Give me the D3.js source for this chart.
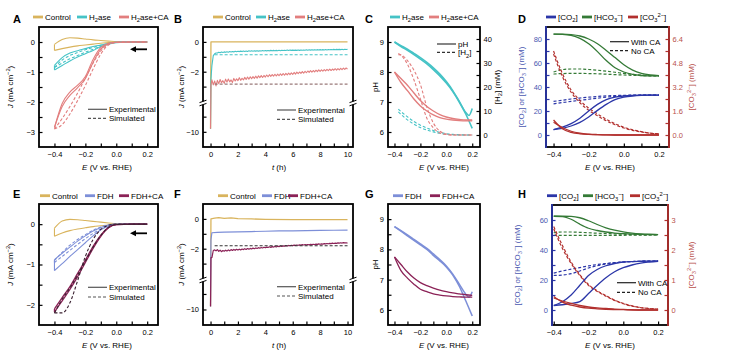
<!DOCTYPE html>
<html><head><meta charset="utf-8">
<script src="https://cdn.jsdelivr.net/npm/d3@7"></script>
<style>body{margin:0;background:#fff}</style>
</head><body>
<script>
// ================= DATA =================
const eGrid = [-0.4,-0.35,-0.3,-0.25,-0.2,-0.15,-0.1,-0.05,0,0.1,0.2];
const pGrid = [-0.4,-0.35,-0.3,-0.25,-0.2,-0.15,-0.1,-0.05,0,0.05,0.1,0.15,0.2];
const pGridTurn = [-0.4,-0.35,-0.3,-0.25,-0.2,-0.15,-0.1,-0.05,0,0.05,0.1,0.15,0.175,0.2];
const h2Grid = [-0.37,-0.35,-0.3,-0.25,-0.2,-0.15,-0.1,-0.05,0,0.05,0.1,0.15,0.2];

// Panel A (J, mA cm-2)
const aControlCath = [-0.28,-0.22,-0.17,-0.13,-0.1,-0.07,-0.04,-0.02,0,0,0];
const aControlAnod = [-0.08,0.08,0.14,0.13,0.1,0.07,0.05,0.03,0.01,0,0];
const aH2aseExp1 = [-0.93,-0.78,-0.63,-0.5,-0.39,-0.28,-0.16,-0.07,-0.02,0,0];
const aH2aseExp2 = [-0.78,-0.52,-0.37,-0.29,-0.22,-0.15,-0.1,-0.05,-0.01,0,0];
const aH2aseSim1 = [-0.85,-0.7,-0.56,-0.45,-0.34,-0.24,-0.14,-0.06,-0.01,0,0];
const aH2aseSim2 = [-0.85,-0.6,-0.45,-0.35,-0.26,-0.18,-0.11,-0.05,-0.01,0,0];
const aCAExp1 = [-2.85,-2.05,-1.67,-1.44,-1.15,-0.58,-0.18,-0.04,-0.01,0,0];
const aCAExp2 = [-2.85,-2.15,-1.78,-1.52,-1.22,-0.68,-0.24,-0.06,-0.01,0,0];
const aCASim1 = [-2.9,-2.75,-2.4,-1.95,-1.45,-0.9,-0.4,-0.1,-0.02,0,0];
const aCASim2 = [-2.9,-2.55,-2.15,-1.7,-1.2,-0.7,-0.3,-0.07,-0.01,0,0];

// Panel B / F time series (h)
const bTime = [0.1,0.2,0.3,0.4,0.5,0.6,0.7,0.8,0.9,1.0,1.1,1.2,1.3,1.4,1.5,1.6,1.7,1.8,1.9,2.0,
 2.1,2.2,2.3,2.4,2.5,2.6,2.7,2.8,2.9,3.0,3.1,3.2,3.3,3.4,3.5,3.6,3.7,3.8,3.9,4.0,
 4.1,4.2,4.3,4.4,4.5,4.6,4.7,4.8,4.9,5.0,5.1,5.2,5.3,5.4,5.5,5.6,5.7,5.8,5.9,6.0,
 6.1,6.2,6.3,6.4,6.5,6.6,6.7,6.8,6.9,7.0,7.1,7.2,7.3,7.4,7.5,7.6,7.7,7.8,7.9,8.0,
 8.1,8.2,8.3,8.4,8.5,8.6,8.7,8.8,8.9,9.0,9.1,9.2,9.3,9.4,9.5,9.6,9.7,9.8,9.9,10.0];
const spikeT = [0, 0.03];
const bControlT = [0, 0.03, 10];
const bControlJ = [-9.8, 0, 0];
const bH2aseSpike = [-9.8, -2.5];
const bH2aseJ = [-1.6,-0.92,-0.80,-0.74,-0.75,-0.70,-0.73,-0.68,-0.71,-0.67,
 -0.70,-0.66,-0.69,-0.65,-0.68,-0.64,-0.67,-0.63,-0.66,-0.63,
 -0.65,-0.62,-0.65,-0.61,-0.64,-0.61,-0.64,-0.60,-0.63,-0.60,
 -0.63,-0.60,-0.62,-0.59,-0.62,-0.59,-0.61,-0.58,-0.61,-0.58,
 -0.60,-0.58,-0.60,-0.57,-0.60,-0.57,-0.59,-0.57,-0.59,-0.56,
 -0.59,-0.56,-0.58,-0.56,-0.58,-0.55,-0.58,-0.55,-0.57,-0.55,
 -0.57,-0.55,-0.57,-0.54,-0.57,-0.54,-0.56,-0.54,-0.56,-0.53,
 -0.56,-0.53,-0.55,-0.53,-0.55,-0.52,-0.55,-0.52,-0.54,-0.52,
 -0.54,-0.52,-0.54,-0.51,-0.54,-0.51,-0.53,-0.51,-0.53,-0.50,
 -0.53,-0.50,-0.52,-0.50,-0.52,-0.49,-0.52,-0.49,-0.51,-0.50];
const bCASpike = [-9.8, -2.9];
const bCAJ = [-2.55,-2.88,-2.62,-2.95,-2.58,-2.80,-2.52,-2.74,-2.60,-2.78,
 -2.50,-2.70,-2.49,-2.68,-2.55,-2.72,-2.45,-2.62,-2.48,-2.60,
 -2.40,-2.58,-2.44,-2.55,-2.38,-2.52,-2.36,-2.50,-2.34,-2.47,
 -2.33,-2.45,-2.30,-2.44,-2.28,-2.40,-2.26,-2.39,-2.25,-2.36,
 -2.22,-2.34,-2.20,-2.31,-2.19,-2.30,-2.17,-2.29,-2.16,-2.27,
 -2.14,-2.25,-2.12,-2.24,-2.11,-2.21,-2.10,-2.20,-2.08,-2.18,
 -2.05,-2.16,-2.03,-2.13,-2.02,-2.11,-1.99,-2.10,-1.97,-2.07,
 -1.95,-2.05,-1.93,-2.03,-1.92,-2.01,-1.90,-2.00,-1.88,-1.98,
 -1.87,-1.96,-1.86,-1.95,-1.84,-1.93,-1.83,-1.92,-1.82,-1.90,
 -1.80,-1.89,-1.79,-1.88,-1.77,-1.86,-1.76,-1.85,-1.75,-1.83];
const simT = [0.3, 10];
const bH2aseSim = [-0.86, -0.86];
const bCASim = [-2.83, -2.83];

// Panel C (pH, [H2] mM)
const cH2asePH1 = [9.0,8.85,8.72,8.58,8.43,8.27,8.08,7.87,7.63,7.35,7.0,6.6,6.12];
const cH2asePH2 = [9.0,8.88,8.76,8.62,8.48,8.32,8.14,7.93,7.68,7.38,7.02,6.65,6.55,6.78];
const cCAPH1 = [8.0,7.78,7.56,7.3,7.05,6.85,6.7,6.58,6.5,6.45,6.42,6.4,6.4];
const cCAPH2 = [8.0,7.65,7.38,7.1,6.87,6.7,6.57,6.48,6.43,6.4,6.38,6.37,6.37];
const cH2aseH2a = [10.8,9.8,7.6,5.6,4.1,2.9,1.9,1.1,0.55,0.25,0.1,0.03,0];
const cH2aseH2b = [9.6,8.6,6.3,4.5,3.1,2.1,1.3,0.7,0.35,0.15,0.05,0.01,0];
const cCAH2a = [34,33.2,29.5,23,15,7,3,0.8,0.2,0,0,0,0];
const cCAH2b = [33.5,33.4,31,27,21,11.6,5,1.6,0.4,0.05,0,0,0];

// Panel D (mM)
const dHCO3CA1 = [84,83.8,83,80.5,76,69.5,62,56,52.5,50.5,49.6,49.3,49.2];
const dHCO3CA2 = [84,84,83.6,82.5,80,76,70.5,64.5,58.5,54,51.3,50,49.4];
const dHCO3No1 = [52.5,54.5,55,55,54.6,54,53.2,52.3,51.3,50.5,49.9,49.5,49.3];
const dHCO3No2 = [50.8,51.2,51.3,51.3,51.2,51,50.7,50.3,50,49.7,49.5,49.3,49.2];
const dCO2CA1 = [4.5,6.5,9.5,14,20,25.5,29.5,31.5,32.5,33,33.2,33.3,33.3];
const dCO2CA2 = [4.5,5.5,7.5,10.5,15,20.5,25.5,29.5,31.5,32.5,33,33.2,33.3];
const dCO2No1 = [28,29,30,30.8,31.5,32.1,32.6,32.9,33.1,33.2,33.3,33.3,33.3];
const dCO2No2 = [26,27,28,28.9,29.8,30.7,31.5,32.2,32.7,33,33.2,33.3,33.3];
const dCO3CA1 = [1.0,0.42,0.18,0.08,0.04,0.02,0.01,0,0,0,0,0,0];
const dCO3CA2 = [0.85,0.5,0.25,0.12,0.06,0.03,0.01,0,0,0,0,0,0];
const dCO3No1 = [5.6,4.1,3.0,2.3,1.8,1.4,1.05,0.75,0.52,0.35,0.22,0.13,0.08];
const dCO3No2 = [5.4,3.9,2.85,2.15,1.65,1.28,0.95,0.68,0.47,0.31,0.2,0.12,0.07];

// Panel E
const eControlCath = [-0.3,-0.22,-0.16,-0.12,-0.09,-0.06,-0.04,-0.02,0,0,0];
const eControlAnod = [-0.1,0.08,0.12,0.11,0.09,0.07,0.05,0.03,0.01,0,0];
const eFDHExp1 = [-1.15,-0.98,-0.8,-0.63,-0.46,-0.29,-0.14,-0.05,-0.01,0,0];
const eFDHExp2 = [-0.88,-0.72,-0.57,-0.42,-0.29,-0.17,-0.08,-0.02,0,0,0];
const eFDHSim1 = [-0.95,-0.8,-0.65,-0.5,-0.36,-0.23,-0.12,-0.05,-0.01,0,0];
const eFDHSim2 = [-0.9,-0.7,-0.52,-0.38,-0.26,-0.15,-0.07,-0.02,0,0,0];
const eCAExp1 = [-2.1,-1.82,-1.55,-1.22,-0.89,-0.55,-0.27,-0.08,-0.01,0,0];
const eCAExp2 = [-2.18,-1.9,-1.62,-1.3,-0.95,-0.6,-0.3,-0.09,-0.01,0,0];
const eCASim1 = [-2.2,-2.2,-1.95,-1.4,-0.8,-0.38,-0.13,-0.03,0,0,0];
const eCASim2 = [-2.2,-1.86,-1.58,-1.26,-0.92,-0.57,-0.28,-0.08,-0.01,0,0];

// Panel F
const fControlT = [0,0.03,0.3,0.6,1,1.5,2,3,4,6,8,10];
const fControlJ = [-9.8,0,0.05,0.08,0.03,0.07,0.02,0,-0.03,-0.05,-0.05,-0.05];
const fFDHT = [0,0.03,0.1,0.5,1,2,3,4,5,6,7,8,9,10];
const fFDHJ = [-9.8,-1.4,-0.93,-0.9,-0.89,-0.87,-0.85,-0.83,-0.81,-0.8,-0.79,-0.77,-0.76,-0.75];
const fCASpike = [-9.8, -2.6];
const fCAJ = [-2.6,-2.12,-2.08,-2.14,-2.06,-2.18,-2.10,-2.20,-2.12,-2.17,
 -2.10,-2.16,-2.08,-2.14,-2.06,-2.12,-2.05,-2.11,-2.04,-2.09,
 -2.03,-2.08,-2.02,-2.06,-2.00,-2.05,-1.99,-2.03,-1.98,-2.02,
 -1.96,-2.00,-1.95,-1.98,-1.93,-1.97,-1.92,-1.95,-1.90,-1.94,
 -1.89,-1.92,-1.87,-1.91,-1.86,-1.89,-1.85,-1.88,-1.83,-1.86,
 -1.82,-1.85,-1.81,-1.83,-1.79,-1.82,-1.78,-1.80,-1.77,-1.79,
 -1.76,-1.78,-1.75,-1.77,-1.74,-1.76,-1.73,-1.75,-1.72,-1.74,
 -1.72,-1.74,-1.71,-1.73,-1.70,-1.72,-1.69,-1.71,-1.68,-1.70,
 -1.68,-1.69,-1.66,-1.68,-1.65,-1.67,-1.64,-1.66,-1.63,-1.65,
 -1.63,-1.64,-1.61,-1.63,-1.60,-1.62,-1.59,-1.61,-1.60,-1.62];
const fCASim = [-1.8, -1.8];

// Panel G
const gFDHPH1 = [8.75,8.6,8.45,8.3,8.15,8.0,7.8,7.62,7.42,7.15,6.78,6.3,5.8];
const gFDHPH2 = [8.75,8.62,8.48,8.33,8.18,8.03,7.85,7.66,7.45,7.18,6.85,6.52,6.42,6.6];
const gCAPH1 = [7.75,7.5,7.25,7.05,6.9,6.8,6.72,6.65,6.6,6.56,6.53,6.5,6.48];
const gCAPH2 = [7.75,7.3,7.05,6.85,6.68,6.6,6.53,6.49,6.46,6.44,6.43,6.42,6.42];

// Panel H
const hHCO3CA1 = [62.5,62.5,62.4,61.5,59.5,57,54.8,53.2,52.1,51.3,50.8,50.5,50.3];
const hHCO3CA2 = [62.5,62.3,60.5,57.2,54.5,53,52,51.3,50.9,50.6,50.4,50.3,50.2];
const hHCO3No1 = [51.5,52,52,51.8,51.5,51.2,51,50.7,50.5,50.3,50.2,50.1,50];
const hHCO3No2 = [49.8,49.8,49.8,49.8,49.8,49.8,49.8,49.8,49.8,49.9,49.9,50,50];
const hCO2CA1 = [3,5.5,10,16.5,23,27,29.5,31,32,32.3,32.5,32.6,32.7];
const hCO2CA2 = [3,3.5,4.3,5.6,11,16.5,21.5,25.5,28.2,30,31.3,32,32.5];
const hCO2No1 = [24.6,26,27.2,28.3,29.4,30.3,31,31.6,32,32.3,32.5,32.6,32.7];
const hCO2No2 = [23,23.3,24.2,26,28,29.5,30.6,31.4,32,32.3,32.5,32.6,32.7];
const hCO3CA1 = [0.45,0.26,0.16,0.1,0.06,0.04,0.025,0.015,0.01,0,0,0,0];
const hCO3CA2 = [0.4,0.3,0.22,0.15,0.1,0.07,0.05,0.03,0.02,0.01,0,0,0];
const hCO3No1 = [2.78,2.15,1.6,1.18,0.85,0.64,0.48,0.33,0.22,0.14,0.08,0.05,0.03];
const hCO3No2 = [2.7,2.05,1.55,1.15,0.82,0.62,0.46,0.32,0.21,0.13,0.08,0.05,0.03];

// ticks
const eTicks = [-0.4,-0.3,-0.2,-0.1,0,0.1,0.2];
const eTickLabels = [-0.4,-0.2,0,0.2];
const tTicks = [0,1,2,3,4,5,6,7,8,9,10];
const tTickLabels = [0,2,4,6,8,10];
const aYTicks = [-3,-2.5,-2,-1.5,-1,-0.5,0], aYLabels = [-3,-2,-1,0];
const eYTicks = [-2,-1.5,-1,-0.5,0], eYLabels = [-2,-1,0];
const bYTicks = [0,-1,-2,-3,-9,-10], bYLabels = [0,-2,-10];
const pHTicks = [6,6.5,7,7.5,8,8.5,9], pHLabels = [6,7,8,9];
const h2Ticks = [0,5,10,15,20,25,30,35,40], h2Labels = [0,10,20,30,40];
const dYTicks = [0,10,20,30,40,50,60,70,80], dYLabels = [0,20,40,60,80];
const dY2Ticks = [0,0.8,1.6,2.4,3.2,4.0,4.8,5.6,6.4], dY2Labels = [0,1.6,3.2,4.8,6.4];
const hYTicks = [0,10,20,30,40,50,60], hYLabels = [0,20,40,60];
const hY2Ticks = [0,0.5,1,1.5,2,2.5,3], hY2Labels = [0,1,2,3];

// colours
const C_CTRL = '#d9b45d', C_H2 = '#45c3c6', C_H2CA = '#e27e7e';
const C_FDH = '#7d8fd8', C_FDHCA = '#8b2257';
const C_CO2 = '#2b36a8', C_HCO3 = '#347a36', C_CO3 = '#b2302e';
const C_LBLUE = '#4a58b0', C_LRED = '#b8504c';

// ================= DRAWING =================
const FONT = '"Liberation Sans", Arial, Helvetica, sans-serif';
const FS = 8, TFS = 7.5;
const svg = d3.select('body').append('svg').attr('width', 732).attr('height', 360)
  .style('display', 'block').attr('font-family', FONT);
svg.append('rect').attr('width', 732).attr('height', 360).attr('fill', '#fff');

const near = (v, arr) => (arr || []).some(a => Math.abs(a - v) < 1e-9);
const fmt1 = d3.format('.1f'), fmtD = d3.format('d');

function rich(sel, parts, fs) {
  let shift = 0;
  parts.forEach(([t, m]) => {
    const ts = sel.append('tspan').text(t);
    const target = m === 1 ? fs * 0.28 : m === 2 ? -fs * 0.4 : 0;
    if (Math.abs(target - shift) > 1e-6) { ts.attr('dy', target - shift); shift = target; }
    if (m === 1 || m === 2) ts.attr('font-size', fs * 0.72);
    if (m === 3) ts.attr('font-style', 'italic');
  });
}

function makePanel(p) {
  const x = d3.scaleLinear().domain(p.xd).range([p.l, p.r]);
  const y = d3.scaleLinear().domain(p.yd).range(p.yr || [p.b, p.t]);
  const y2 = p.y2d ? d3.scaleLinear().domain(p.y2d).range([p.b, p.t]) : null;
  const cid = 'clip-' + p.id;
  svg.append('clipPath').attr('id', cid).append('rect')
    .attr('x', p.l).attr('y', p.t).attr('width', p.r - p.l).attr('height', p.b - p.t);
  const plot = svg.append('g').attr('clip-path', `url(#${cid})`);
  return { p, x, y, y2, plot };
}

function styleAxis(sel, tc, lc) {
  sel.select('.domain').remove();
  sel.attr('font-family', FONT).attr('font-size', TFS);
  sel.selectAll('.tick line').attr('stroke', tc).attr('stroke-width', 1.2);
  sel.selectAll('.tick text').attr('fill', lc);
}

function finishPanel(P) {
  const { p, x, y, y2 } = P;
  const g = svg.append('g');
  const ax = g.append('g').attr('transform', `translate(0,${p.b})`)
    .call(d3.axisBottom(x).tickValues(p.xt).tickSize(-3.5).tickPadding(4.5)
      .tickFormat(v => near(v, p.xl) ? p.xf(v) : ''));
  styleAxis(ax, '#000', '#000');
  const ay = g.append('g').attr('transform', `translate(${p.l},0)`)
    .call(d3.axisLeft(y).tickValues(p.yt).tickSize(-3.5).tickPadding(4)
      .tickFormat(v => near(v, p.yl) ? p.yf(v) : ''));
  styleAxis(ay, p.lc || '#000', p.ltc || '#000');
  if (y2) {
    const ar = g.append('g').attr('transform', `translate(${p.r},0)`)
      .call(d3.axisRight(y2).tickValues(p.y2t).tickSize(-3.5).tickPadding(3.5)
        .tickFormat(v => near(v, p.y2l) ? p.y2f(v) : ''));
    styleAxis(ar, p.rc || '#000', p.rtc || '#000');
  }
  g.append('rect').attr('x', p.l).attr('y', p.t).attr('width', p.r - p.l).attr('height', p.b - p.t)
    .attr('fill', 'none').attr('stroke', '#000').attr('stroke-width', 1.8);
  if (p.lc) g.append('line').attr('x1', p.l).attr('x2', p.l).attr('y1', p.t - 0.9).attr('y2', p.b + 0.9)
    .attr('stroke', p.lc).attr('stroke-width', 1.8);
  if (p.rc) g.append('line').attr('x1', p.r).attr('x2', p.r).attr('y1', p.t - 0.9).attr('y2', p.b + 0.9)
    .attr('stroke', p.rc).attr('stroke-width', 1.8);
  if (p.brk !== undefined) {
    [p.l, p.r].forEach(sx => {
      g.append('rect').attr('x', sx - 3).attr('y', p.brk - 1.6).attr('width', 6).attr('height', 3.2).attr('fill', '#fff');
      [-1.6, 1.6].forEach(o => g.append('line').attr('x1', sx - 3.5).attr('x2', sx + 3.5)
        .attr('y1', p.brk + o + 1.2).attr('y2', p.brk + o - 1.2).attr('stroke', '#000').attr('stroke-width', 1));
    });
  }
  const xl = svg.append('text').attr('x', p.xlx).attr('y', p.b + 23).attr('text-anchor', 'middle').attr('font-size', FS);
  rich(xl, p.xlab, FS);
  const yl = svg.append('text').attr('transform', `translate(${p.ylx},${(p.t + p.b) / 2}) rotate(-90)`)
    .attr('text-anchor', 'middle').attr('font-size', FS).attr('fill', p.ylc || '#000');
  rich(yl, p.ylab, FS);
  if (p.y2lab) {
    const yr = svg.append('text').attr('transform', `translate(${p.y2lx},${(p.t + p.b) / 2}) rotate(-90)`)
      .attr('text-anchor', 'middle').attr('font-size', FS).attr('fill', p.y2lc || '#000');
    rich(yr, p.y2lab, FS);
  }
  svg.append('text').attr('x', p.letterX).attr('y', p.letterY).attr('font-size', 11)
    .attr('font-weight', 'bold').text(p.letter);
}

function curve(P, xs, ys, color, o = {}) {
  const yS = o.right ? P.y2 : P.y;
  const line = d3.line().x(d => P.x(d[0])).y(d => yS(d[1]))
    .curve(o.linear ? d3.curveLinear : d3.curveMonotoneX);
  P.plot.append('path').attr('d', line(xs.map((v, i) => [v, ys[i]])))
    .attr('fill', 'none').attr('stroke', color).attr('stroke-width', o.w || 1.1)
    .attr('stroke-linejoin', 'round')
    .attr('stroke-dasharray', o.dash ? '3,2' : null);
}
function loop(P, xs, ys1, ys2, color, o = {}) {
  curve(P, xs, ys1, color, o);
  curve(P, xs, ys2, color, o);
  curve(P, [xs[0], xs[0]], [ys1[0], ys2[0]], color, Object.assign({}, o, { linear: true }));
}
function topLegend(items, yc) {
  items.forEach(it => {
    svg.append('line').attr('x1', it.x).attr('x2', it.x + 10).attr('y1', yc).attr('y2', yc)
      .attr('stroke', it.c).attr('stroke-width', 2.8);
    const t = svg.append('text').attr('x', it.x + 12).attr('y', yc + 3).attr('font-size', FS);
    rich(t, it.parts, FS);
  });
}
function innerLegend(x, y1, y2, labs, color) {
  [[y1, false, labs[0]], [y2, true, labs[1]]].forEach(([yy, dash, lab]) => {
    svg.append('line').attr('x1', x).attr('x2', x + 19).attr('y1', yy).attr('y2', yy)
      .attr('stroke', color).attr('stroke-width', 1.2).attr('stroke-dasharray', dash ? '3,2' : null);
    const t = svg.append('text').attr('x', x + 21).attr('y', yy + 3).attr('font-size', FS);
    rich(t, lab, FS);
  });
}
function arrow(x1, x2, yy) {
  svg.append('line').attr('x1', x1).attr('x2', x2 + 4).attr('y1', yy).attr('y2', yy)
    .attr('stroke', '#000').attr('stroke-width', 1.8);
  svg.append('path').attr('d', `M${x2},${yy}L${x2 + 6},${yy - 3}L${x2 + 6},${yy + 3}Z`).attr('fill', '#000');
}

const JLAB = [['J', 3], [' (mA cm', 0], ['−2', 2], [')', 0]];
const ELAB = [['E', 3], [' (V vs. RHE)', 0]];
const TLAB = [['t', 3], [' (h)', 0]];
const CONCLAB = [['[CO', 0], ['2', 1], ['] or [HCO', 0], ['3', 1], ['−', 2], ['] (mM)', 0]];
const CO3LAB = [['[CO', 0], ['3', 1], ['2−', 2], ['] (mM)', 0]];
const H2LAB = [['[H', 0], ['2', 1], ['] (mM)', 0]];
const H2ASE = [['H', 0], ['2', 1], ['ase', 0]];
const H2ASECA = [['H', 0], ['2', 1], ['ase+CA', 0]];
const LEG_CO2 = [['[CO', 0], ['2', 1], [']', 0]];
const LEG_HCO3 = [['[HCO', 0], ['3', 1], ['−', 2], [']', 0]];
const LEG_CO3 = [['[CO', 0], ['3', 1], ['2−', 2], [']', 0]];
const EXPSIM = [[['Experimental', 0]], [['Simulated', 0]]];
const CANO = [[['With CA', 0]], [['No CA', 0]]];

const cvCommon = { xd: [-0.5, 0.27], xt: eTicks, xl: eTickLabels, xf: fmt1, xlab: ELAB, xlx: 107, ylab: JLAB, ylx: 13, yf: fmtD, letterX: 13 };
const tCommon = { xd: [-0.55, 10.4], xt: tTicks, xl: tTickLabels, xf: fmtD, xlab: TLAB, xlx: 279, ylab: JLAB, ylx: 184,
  yt: bYTicks, yl: bYLabels, yf: fmtD, letterX: 174, l: 203, r: 353 };
const phCommon = { l: 388, r: 480, xd: [-0.45, 0.26], xt: eTicks, xl: eTickLabels, xf: fmt1, xlab: ELAB, xlx: 444,
  yd: [5.5, 9.5], yt: pHTicks, yl: pHLabels, yf: fmtD, ylab: [['pH', 0]], ylx: 378, letterX: 365 };
const concCommon = { xt: eTicks, xl: eTickLabels, xf: fmt1, xlab: ELAB, xlx: 610, yf: fmtD,
  lc: C_CO2, ltc: C_LBLUE, rc: C_CO3, rtc: C_LRED, ylab: CONCLAB, ylc: C_LBLUE, y2lab: CO3LAB, y2lx: 694, y2lc: C_LRED, letterX: 518 };

// ---------- Panel A ----------
const A = makePanel(Object.assign({}, cvCommon, { id: 'A', l: 39, r: 158, t: 27, b: 147, yd: [-3.5, 0.5],
  yt: aYTicks, yl: aYLabels, letter: 'A', letterY: 23 }));
loop(A, eGrid, aControlCath, aControlAnod, C_CTRL);
loop(A, eGrid, aH2aseSim1, aH2aseSim2, C_H2, { dash: true });
loop(A, eGrid, aH2aseExp1, aH2aseExp2, C_H2);
loop(A, eGrid, aCASim1, aCASim2, C_H2CA, { dash: true });
loop(A, eGrid, aCAExp1, aCAExp2, C_H2CA);
finishPanel(A);
topLegend([{ x: 33, c: C_CTRL, parts: [['Control', 0]] }, { x: 77, c: C_H2, parts: H2ASE }, { x: 119, c: C_H2CA, parts: H2ASECA }], 17);
innerLegend(88, 109.3, 118.3, EXPSIM, '#555');
arrow(147, 130, 49.3);

// ---------- Panel B ----------
const B = makePanel(Object.assign({}, tCommon, { id: 'B', t: 27, b: 147, yd: [-11, -8.1, -4.1, 1], yr: [147, 103, 103, 27], brk: 103,
  letter: 'B', letterY: 23 }));
curve(B, bControlT, bControlJ, C_CTRL, { linear: true, w: 1.3 });
curve(B, spikeT.concat(bTime), bH2aseSpike.concat(bH2aseJ), C_H2, { linear: true, w: 1.1 });
curve(B, spikeT.concat(bTime), bCASpike.concat(bCAJ), C_H2CA, { linear: true, w: 1.1 });
curve(B, simT, bH2aseSim, C_H2, { dash: true, linear: true });
curve(B, simT, bCASim, '#9a7a7a', { dash: true, linear: true });
finishPanel(B);
topLegend([{ x: 213, c: C_CTRL, parts: [['Control', 0]] }, { x: 256, c: C_H2, parts: H2ASE }, { x: 295, c: C_H2CA, parts: H2ASECA }], 17);
innerLegend(277, 110, 119.3, EXPSIM, '#555');

// ---------- Panel C ----------
const Cp = makePanel(Object.assign({}, phCommon, { id: 'C', t: 27, b: 147, y2d: [-5, 45], y2t: h2Ticks, y2l: h2Labels, y2f: fmtD,
  y2lab: H2LAB, y2lx: 500, letter: 'C', letterY: 23 }));
curve(Cp, h2Grid, cH2aseH2a, C_H2, { dash: true, right: true });
curve(Cp, h2Grid, cH2aseH2b, C_H2, { dash: true, right: true });
curve(Cp, h2Grid, cCAH2a, C_H2CA, { dash: true, right: true });
curve(Cp, h2Grid, cCAH2b, C_H2CA, { dash: true, right: true });
curve(Cp, pGrid, cH2asePH1, C_H2, { w: 1.6 });
curve(Cp, pGridTurn, cH2asePH2, C_H2, { w: 1.6 });
curve(Cp, pGrid, cCAPH1, C_H2CA, { w: 1.4 });
curve(Cp, pGrid, cCAPH2, C_H2CA, { w: 1.4 });
finishPanel(Cp);
topLegend([{ x: 390, c: C_H2, parts: H2ASE }, { x: 429, c: C_H2CA, parts: H2ASECA }], 17);
innerLegend(437, 44, 52.3, [[['pH', 0]], [['[H', 0], ['2', 1], [']', 0]]], '#333');

// ---------- Panel D ----------
const D = makePanel(Object.assign({}, concCommon, { id: 'D', l: 546, r: 669, t: 27, b: 147, xd: [-0.443, 0.257],
  yd: [-10, 90], yt: dYTicks, yl: dYLabels, y2d: [-0.8, 7.2], y2t: dY2Ticks, y2l: dY2Labels, y2f: fmt1, ylx: 524,
  letter: 'D', letterY: 23 }));
[dHCO3No1, dHCO3No2].forEach(s => curve(D, pGrid, s, C_HCO3, { dash: true, w: 1.2 }));
[dCO2No1, dCO2No2].forEach(s => curve(D, pGrid, s, C_CO2, { dash: true, w: 1.2 }));
[dCO3No1, dCO3No2].forEach(s => curve(D, pGrid, s, C_CO3, { dash: true, w: 1.2, right: true }));
[dHCO3CA1, dHCO3CA2].forEach(s => curve(D, pGrid, s, C_HCO3, { w: 1.3 }));
[dCO2CA1, dCO2CA2].forEach(s => curve(D, pGrid, s, C_CO2, { w: 1.3 }));
[dCO3CA1, dCO3CA2].forEach(s => curve(D, pGrid, s, C_CO3, { w: 1.3, right: true }));
finishPanel(D);
topLegend([{ x: 546, c: C_CO2, parts: LEG_CO2 }, { x: 582, c: C_HCO3, parts: LEG_HCO3 }, { x: 628, c: C_CO3, parts: LEG_CO3 }], 17);
innerLegend(610, 41.7, 50.7, CANO, '#222');

// ---------- Panel E ----------
const E = makePanel(Object.assign({}, cvCommon, { id: 'E', l: 39, r: 158, t: 204, b: 325, yd: [-2.5, 0.5],
  yt: eYTicks, yl: eYLabels, letter: 'E', letterY: 198 }));
loop(E, eGrid, eControlCath, eControlAnod, C_CTRL);
loop(E, eGrid, eFDHSim1, eFDHSim2, C_FDH, { dash: true });
loop(E, eGrid, eFDHExp1, eFDHExp2, C_FDH);
loop(E, eGrid, eCAExp1, eCAExp2, C_FDHCA, { w: 1.3 });
loop(E, eGrid, eCASim1, eCASim2, '#3a2030', { dash: true });
finishPanel(E);
topLegend([{ x: 40, c: C_CTRL, parts: [['Control', 0]] }, { x: 85, c: C_FDH, parts: [['FDH', 0]] }, { x: 119, c: C_FDHCA, parts: [['FDH+CA', 0]] }], 195.7);
innerLegend(88, 287.3, 297, EXPSIM, '#555');
arrow(147, 130, 233.3);

// ---------- Panel F ----------
const F = makePanel(Object.assign({}, tCommon, { id: 'F', t: 204, b: 325, yd: [-11, -8.1, -4.1, 1], yr: [325, 280, 280, 204], brk: 280,
  letter: 'F', letterY: 198 }));
curve(F, fControlT, fControlJ, C_CTRL, { linear: true, w: 1.3 });
curve(F, fFDHT, fFDHJ, C_FDH, { linear: true, w: 1.2 });
curve(F, spikeT.concat(bTime), fCASpike.concat(fCAJ), C_FDHCA, { linear: true, w: 1.2 });
curve(F, simT, fCASim, '#333', { dash: true, linear: true });
finishPanel(F);
topLegend([{ x: 218, c: C_CTRL, parts: [['Control', 0]] }, { x: 262, c: C_FDH, parts: [['FDH', 0]] }, { x: 288, c: C_FDHCA, parts: [['FDH+CA', 0]] }], 195.7);
innerLegend(277, 286.7, 296, EXPSIM, '#555');

// ---------- Panel G ----------
const G = makePanel(Object.assign({}, phCommon, { id: 'G', t: 204, b: 325, letter: 'G', letterY: 198 }));
curve(G, pGrid, gFDHPH1, C_FDH, { w: 1.5 });
curve(G, pGridTurn, gFDHPH2, C_FDH, { w: 1.5 });
curve(G, pGrid, gCAPH1, C_FDHCA, { w: 1.3 });
curve(G, pGrid, gCAPH2, C_FDHCA, { w: 1.3 });
finishPanel(G);
topLegend([{ x: 393, c: C_FDH, parts: [['FDH', 0]] }, { x: 430, c: C_FDHCA, parts: [['FDH+CA', 0]] }], 195.7);

// ---------- Panel H ----------
const Hp = makePanel(Object.assign({}, concCommon, { id: 'H', l: 552, r: 668, t: 205, b: 325, xd: [-0.41, 0.257],
  yd: [-10, 70], yt: hYTicks, yl: hYLabels, y2d: [-0.5, 3.5], y2t: hY2Ticks, y2l: hY2Labels, y2f: fmtD, ylx: 520,
  letter: 'H', letterY: 198 }));
[hHCO3No1, hHCO3No2].forEach(s => curve(Hp, pGrid, s, C_HCO3, { dash: true, w: 1.2 }));
[hCO2No1, hCO2No2].forEach(s => curve(Hp, pGrid, s, C_CO2, { dash: true, w: 1.2 }));
[hCO3No1, hCO3No2].forEach(s => curve(Hp, pGrid, s, C_CO3, { dash: true, w: 1.2, right: true }));
[hHCO3CA1, hHCO3CA2].forEach(s => curve(Hp, pGrid, s, C_HCO3, { w: 1.3 }));
[hCO2CA1, hCO2CA2].forEach(s => curve(Hp, pGrid, s, C_CO2, { w: 1.3 }));
[hCO3CA1, hCO3CA2].forEach(s => curve(Hp, pGrid, s, C_CO3, { w: 1.3, right: true }));
finishPanel(Hp);
topLegend([{ x: 547, c: C_CO2, parts: LEG_CO2 }, { x: 583, c: C_HCO3, parts: LEG_HCO3 }, { x: 630, c: C_CO3, parts: LEG_CO3 }], 195.7);
innerLegend(617, 282.7, 292.3, CANO, '#222');
</script>
</body></html>
